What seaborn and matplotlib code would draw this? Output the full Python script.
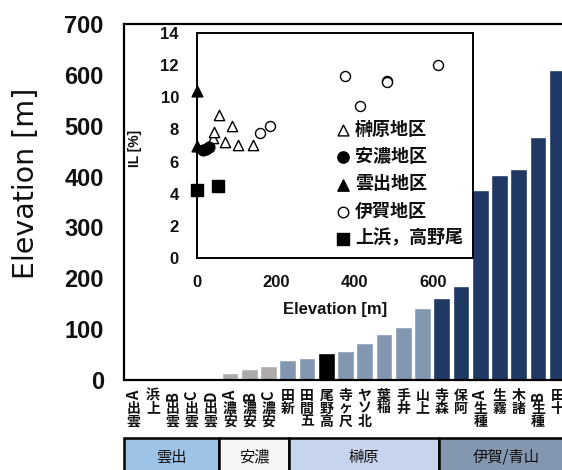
import matplotlib
matplotlib.use("Agg")
import matplotlib.pyplot as plt
import seaborn as sns
import pandas as pd
from matplotlib.patches import Rectangle
from matplotlib.transforms import offset_copy

# ---- site elevations (bar chart) ----
sites = ["雲出A", "上浜", "雲出B", "雲出C", "雲出D", "安濃A", "安濃B", "安濃C",
         "新田", "五間田", "高野尾", "尺ヶ寺", "北ソヤ", "稲葉", "井手", "上山",
         "森寺", "阿保", "種生A", "霧生", "諸木", "種生B", "十田"]
elevation = [0, 0, 0, 0, 0, 14, 21, 27,
             40, 43, 53, 58, 73, 90, 104, 142,
             161, 185, 374, 403, 415, 478, 610]
district = ["雲出", "上浜", "雲出", "雲出", "雲出", "安濃", "安濃", "安濃",
            "榊原", "榊原", "高野尾", "榊原", "榊原", "榊原", "榊原", "榊原",
            "伊賀", "伊賀", "伊賀", "伊賀", "伊賀", "伊賀", "伊賀"]
bar_colors = {"雲出": "#9dc3e6", "上浜": "#000000", "安濃": "#aeaaaa",
              "榊原": "#8497b0", "高野尾": "#000000", "伊賀": "#203864"}

# ---- district table under the axis ----
groups = ["雲出", "安濃", "榊原", "伊賀/青山"]
group_fill = ["#9dc3e6", "#f6f6f6", "#c6d4ee", "#8497b0"]
group_edges = [-0.5, 4.45, 8.05, 15.85, 22.8]

# ---- IL vs elevation (inset) ----
saka_elev = [40, 42, 57, 72, 89, 105, 142]
saka_il = [7.45, 7.82, 8.88, 7.22, 8.2, 7.01, 7.01]
ano_elev = [15, 22, 31]
ano_il = [6.7, 6.8, 6.9]
kumozu_elev = [0, 0]
kumozu_il = [10.4, 7.0]
iga_elev = [160, 186, 375, 413, 481, 481, 612]
iga_il = [7.78, 8.24, 11.35, 9.44, 11.0, 10.95, 12.03]
other_elev = [0, 53]
other_il = [4.25, 4.5]

sns.set_theme(style="white")
plt.rcParams["font.family"] = ["Liberation Sans", "Noto Sans CJK JP"]
CJK = ["Noto Sans CJK JP", "DejaVu Sans"]

W, H = 562, 470
fig = plt.figure(figsize=(W / 100, H / 100), dpi=100)

# main axes (extends past the right edge of the canvas)
ax = fig.add_axes([124 / W, 90 / H, 443 / W, 356 / H])
df = pd.DataFrame({"site": sites, "elevation": elevation, "district": district})
sns.barplot(data=df, x="site", y="elevation", hue="district", palette=bar_colors,
            dodge=False, width=0.87, saturation=1, legend=False, ax=ax, zorder=2)
ax.set_xlim(-0.5, len(sites) - 0.5)
ax.set_ylim(0, 700)
ax.set_yticks(range(0, 701, 100))
ax.set_xticks(range(len(sites)))
ax.set_xticklabels([])
ax.set_xlabel("")
ax.tick_params(axis="x", length=0)
ax.tick_params(axis="y", direction="in", length=5, width=1.2, color="black",
               pad=14.5, labelsize=17)
for lab in ax.get_yticklabels():
    lab.set_fontweight("bold")
    lab.set_color("#111111")
for side in ["left", "bottom", "top"]:
    ax.spines[side].set_color("black")
    ax.spines[side].set_linewidth(1.6)
ax.spines["right"].set_visible(False)
ax.set_ylabel("Elevation [m]", fontsize=20.5, family="DejaVu Sans", color="#111111",
              va="center", ha="center")
ax.yaxis.set_label_coords((26 - 124) / 443, (380 - 183) / 356)

# vertical stacked category labels (last character on top)
px = 0.72  # points per pixel at 100 dpi
for i, name in enumerate(sites):
    for k, ch in enumerate(reversed(name)):
        tr = offset_copy(ax.get_xaxis_transform(), fig=fig, x=0,
                         y=-(9 + 6.6 + 13.0 * k) * px, units="points")
        ax.text(i, 0, ch, transform=tr, ha="center", va="center",
                rotation=90 if ch.isascii() else 0,
                fontsize=10.5 if ch.isascii() else 10,
                fontweight="bold", family=CJK, color="#111111", clip_on=False)

# district table row
xt = ax.get_xaxis_transform()
y_top = -(438 - 380) / 356
for name, fc, x0, x1 in zip(groups, group_fill, group_edges[:-1], group_edges[1:]):
    ax.add_patch(Rectangle((x0, y_top - 0.3), x1 - x0, 0.3, transform=xt,
                           facecolor=fc, edgecolor="black", lw=1.8, clip_on=False))
    ax.text((x0 + x1) / 2, -(457 - 380) / 356, name, transform=xt, ha="center",
            va="center", fontsize=11, family=CJK, color="#111111", clip_on=False)

# inset: IL against elevation
ax_in = fig.add_axes([197 / W, (H - 258) / H, 276 / W, 225 / H])
ax_in.set_facecolor("white")
common = dict(ax=ax_in, clip_on=False, zorder=5)
sns.scatterplot(x=saka_elev, y=saka_il, marker="^", s=55, facecolor="white",
                edgecolor="black", linewidth=1.0, label="榊原地区", **common)
sns.scatterplot(x=ano_elev, y=ano_il, marker="o", s=60, color="black",
                edgecolor="black", linewidth=1.0, label="安濃地区", **common)
sns.scatterplot(x=kumozu_elev, y=kumozu_il, marker="^", s=60, color="black",
                edgecolor="black", linewidth=1.0, label="雲出地区", **common)
sns.scatterplot(x=iga_elev, y=iga_il, marker="o", s=52, facecolor="white",
                edgecolor="black", linewidth=1.0, label="伊賀地区", **common)
sns.scatterplot(x=other_elev, y=other_il, marker="s", s=72, color="black",
                edgecolor="black", linewidth=1.0, label="上浜，高野尾", **common)
ax_in.set_xlim(0, 700)
ax_in.set_ylim(0, 14)
ax_in.set_xticks([0, 200, 400, 600])
ax_in.set_yticks(range(0, 15, 2))
ax_in.tick_params(direction="in", length=5, width=1.1, color="black", labelsize=12)
ax_in.tick_params(axis="x", pad=12)
ax_in.tick_params(axis="y", pad=13)
for lab in ax_in.get_xticklabels() + ax_in.get_yticklabels():
    lab.set_fontweight("bold")
    lab.set_color("#111111")
for side in ax_in.spines.values():
    side.set_color("black")
    side.set_linewidth(1.4)
ax_in.set_xlabel("Elevation [m]", fontsize=12, fontweight="bold", color="#111111",
                 labelpad=9)
ax_in.set_ylabel("IL [%]", fontsize=10, fontweight="bold", color="#111111",
                 labelpad=14)
ax_in.yaxis.set_label_coords((139 - 197) / 276 + 0.012, (258 - 148) / 225)
leg = ax_in.legend(loc="upper left", bbox_to_anchor=(0.48, 0.645), frameon=False,
                   handlelength=0.7, handletextpad=0.3, labelspacing=0.45,
                   markerscale=1.05, borderaxespad=0,
                   prop={"family": CJK, "weight": "bold", "size": 13})
for t in leg.get_texts():
    t.set_color("#111111")

fig.savefig("out.png", dpi=100)
